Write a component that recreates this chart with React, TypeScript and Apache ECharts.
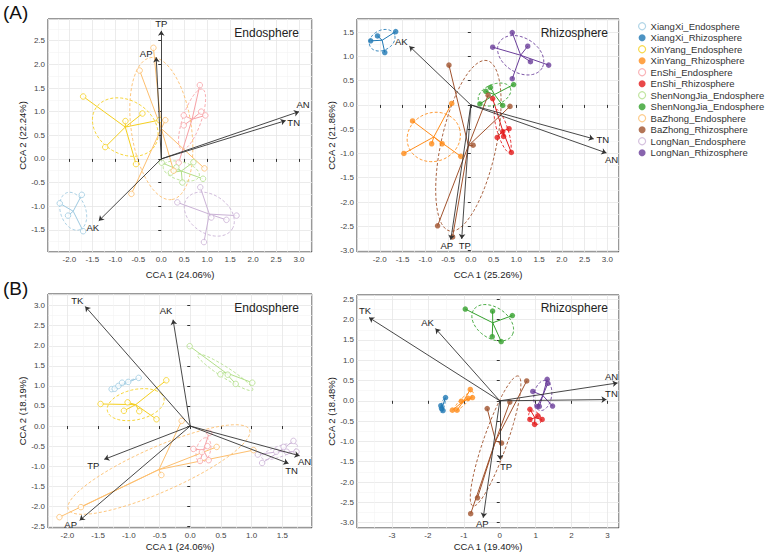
import { useEffect, useRef } from 'react';
import * as echarts from 'echarts';

const FONT = '"Liberation Sans", Arial, Helvetica, sans-serif';

const groups = ['XiangXi', 'XinYang', 'EnShi', 'ShenNongJia', 'BaZhong', 'LongNan'];
const legendLabels = [
  'XiangXi_Endosphere', 'XiangXi_Rhizosphere',
  'XinYang_Endosphere', 'XinYang_Rhizosphere',
  'EnShi_Endosphere', 'EnShi_Rhizosphere',
  'ShenNongJia_Endosphere', 'ShenNongJia_Endosphere',
  'BaZhong_Endosphere', 'BaZhong_Rhizosphere',
  'LongNan_Endosphere', 'LongNan_Rhizosphere',
];
const endoColors = ['#9ecae1', '#f5cf1f', '#f7a1a6', '#b2df8a', '#fdbf6f', '#cab2d6'];
const rhizoColors = ['#1f78b4', '#ff8c1a', '#e31a1c', '#33a02c', '#a0522d', '#6a3d9a'];

// (A) Endosphere sample scores, one list per site
const aEndoPoints = [
  [[-2.21, -0.94], [-2.03, -1.2], [-1.73, -0.76], [-1.7, -1.53]],
  [[-1.7, 1.32], [-1.22, 0.25], [-0.78, 0.8], [-0.55, -0.11], [-0.41, 0.96], [-0.04, 0.82]],
  [[0.84, 1.56], [0.87, 1.0], [0.96, 0.92], [0.49, 0.92], [0.49, 0.71], [0.38, -0.08]],
  [[0.01, -0.08], [0.21, -0.29], [0.33, -0.18], [0.46, -0.5], [0.7, -0.07], [0.91, -0.42]],
  [[-0.17, 2.35], [-0.47, 1.87], [0.09, 0.82], [0.27, -0.25], [0.94, -0.2], [-0.65, -0.74]],
  [[0.85, -0.6], [0.35, -0.92], [1.09, -1.24], [1.42, -1.29], [1.64, -1.2], [0.93, -1.76]],
];
// (A) Rhizosphere
const aRhizoPoints = [
  [[-2.2, 1.32], [-2.05, 1.42], [-1.65, 1.51], [-1.89, 1.08]],
  [[-1.28, -0.33], [-1.47, -1.0], [-0.86, -0.8], [-0.63, -0.8], [-0.42, 0.03], [-0.22, -1.06]],
  [[0.48, 0.13], [0.58, -0.67], [0.7, -0.55], [0.72, -0.65], [0.84, -0.49], [0.89, -0.98]],
  [[0.2, 0.02], [0.33, 0.28], [0.43, 0.36], [0.7, -0.01], [0.94, 0.42]],
  [[-0.48, 0.82], [0.38, 0.2], [0.86, -0.03], [0.05, -0.83], [-0.73, -2.49], [-0.4, -2.72]],
  [[0.91, 1.49], [0.48, 1.19], [1.25, 1.21], [1.31, 0.89], [1.71, 0.82], [0.91, 0.54]],
];
// (B) Endosphere
const bEndoPoints = [
  [[-1.28, 0.92], [-1.23, 0.93], [-1.17, 1.0], [-1.11, 1.08], [-1.01, 1.1], [-0.84, 1.2]],
  [[-1.46, 0.55], [-1.02, 0.59], [-1.08, 0.38], [-0.83, 0.37], [-0.55, 0.17], [-0.39, 1.14]],
  [[0.31, -0.17], [0.05, -0.57], [0.19, -0.65], [0.28, -0.5], [0.16, -0.87], [0.3, -0.85]],
  [[-0.01, 1.99], [0.49, 1.29], [0.61, 1.28], [0.74, 1.05], [1.01, 1.08]],
  [[-0.14, 0.13], [-0.47, -1.22], [-1.78, -2.02], [-2.13, -2.27], [0.43, -0.52], [1.03, -0.6]],
  [[1.1, -0.71], [1.17, -0.92], [1.4, -0.64], [1.52, -0.52], [1.57, -0.64], [1.68, -0.37], [1.73, -0.64]],
];
// (B) Rhizosphere
const bRhizoPoints = [
  [[-1.51, 0.08], [-1.64, -0.12], [-1.58, -0.24], [-1.62, -0.19]],
  [[-1.32, -0.23], [-1.19, -0.23], [-1.07, -0.01], [-0.88, 0.06], [-0.82, 0.28], [-0.76, 0.08]],
  [[0.84, -0.21], [0.84, -0.46], [0.97, -0.58], [1.06, -0.37], [1.18, -0.46]],
  [[-0.96, 2.26], [-0.2, 2.21], [0.35, 2.1], [-0.21, 1.58], [0.04, 1.46]],
  [[-0.35, -0.19], [0.05, -1.04], [0.28, -0.03], [0.75, 0.49], [-0.62, -2.39], [-0.81, -2.78]],
  [[0.92, 0.23], [1.32, 0.53], [1.34, 0.43], [1.04, -0.14], [1.1, -0.14], [1.47, -0.13]],
];

// Environmental factor arrows
const aEndoArrowNames = ['TP', 'AP', 'AN', 'TN', 'AK'];
const aEndoArrows = [[0.0, 2.71], [-0.11, 2.15], [3.0, 1.0], [2.71, 0.81], [-1.36, -1.31]];
const aRhizoArrowNames = ['AK', 'TN', 'AN', 'AP', 'TP'];
const aRhizoArrows = [[-1.35, 1.21], [2.7, -0.7], [2.98, -0.99], [-0.44, -2.78], [-0.2, -2.76]];
const bEndoArrowNames = ['TK', 'AK', 'TP', 'AP', 'AN', 'TN'];
const bEndoArrows = [[-1.71, 2.98], [-0.28, 2.65], [-1.4, -0.83], [-1.8, -2.35], [1.78, -0.74], [1.6, -0.93]];
const bRhizoArrowNames = ['TK', 'AK', 'AN', 'TN', 'TP', 'AP'];
const bRhizoArrows = [[-3.64, 2.05], [-1.79, 1.78], [3.28, 0.44], [2.97, 0.03], [0.01, -1.45], [-0.46, -2.88]];

const xAxisNames = ['CCA 1 (24.06%)', 'CCA 1 (25.26%)', 'CCA 1 (24.06%)', 'CCA 1 (19.40%)'];
const yAxisNames = ['CCA 2 (22.24%)', 'CCA 2 (21.86%)', 'CCA 2 (18.19%)', 'CCA 2 (18.48%)'];
const panelTitles = ['Endosphere', 'Rhizosphere', 'Endosphere', 'Rhizosphere'];

// ---- layout (positions / sizes / styles) ----
const layout = [
  { grid: { left: 48, top: 19, width: 264, height: 233 }, x: [-2.466, 3.283], y: [-1.97, 2.96], split: [11, 10], xDec: 1, nameGap: 17, titleX: 299, titleY: 33 },
  { grid: { left: 357, top: 19, width: 262, height: 233 }, x: [-2.5, 3.255], y: [-3.03, 1.77], split: [11, 10], xDec: 1, nameGap: 17, titleX: 608, titleY: 33 },
  { grid: { left: 48, top: 294, width: 264, height: 234 }, x: [-2.316, 1.982], y: [-2.54, 3.29], split: [9, 12], xDec: 1, nameGap: 13, titleX: 299, titleY: 308 },
  { grid: { left: 357, top: 295, width: 262, height: 233 }, x: [-3.975, 3.32], y: [-3.133, 2.606], split: [7, 11], xDec: 0, nameGap: 13, titleX: 608, titleY: 308 },
];
// label centre offset from arrow tip, in px
const labelOffsets = [
  [[0, -7], [-10, -4], [4, -7], [8, 2], [-6, 7]],
  [[-8, -5], [9, 1], [5, 7], [-4, 6], [3, 7]],
  [[-8, -6], [-7, -9], [-11, 6], [-9, 4], [5, 6], [3, 7]],
  [[-4, -7], [-8, -6], [-6, -6], [5, -6], [6, 7], [-1, 6]],
];
const ELLIPSE_K = 1.2;

function stats(pts: number[][]) {
  const n = pts.length;
  let mx = 0, my = 0;
  pts.forEach((p) => { mx += p[0]; my += p[1]; });
  mx /= n; my /= n;
  let sxx = 0, syy = 0, sxy = 0;
  pts.forEach((p) => {
    sxx += (p[0] - mx) ** 2; syy += (p[1] - my) ** 2; sxy += (p[0] - mx) * (p[1] - my);
  });
  sxx /= n - 1; syy /= n - 1; sxy /= n - 1;
  return { mx, my, sxx, syy, sxy };
}

function ellipseOutline(pts: number[][], k: number) {
  const { mx, my, sxx, syy, sxy } = stats(pts);
  const tr = sxx + syy;
  const det = sxx * syy - sxy * sxy;
  const disc = Math.sqrt(Math.max(tr * tr / 4 - det, 0));
  const l1 = tr / 2 + disc;
  const l2 = Math.max(tr / 2 - disc, 0);
  const th = 0.5 * Math.atan2(2 * sxy, sxx - syy);
  const a = k * Math.sqrt(l1);
  const b = k * Math.sqrt(l2);
  const out: number[][] = [];
  for (let i = 0; i <= 72; i++) {
    const t = (i / 72) * Math.PI * 2;
    const u = a * Math.cos(t);
    const v = b * Math.sin(t);
    out.push([mx + u * Math.cos(th) - v * Math.sin(th), my + u * Math.sin(th) + v * Math.cos(th)]);
  }
  return out;
}

export default function App() {
  const ref = useRef<HTMLDivElement>(null);
  useEffect(() => {
    if (!ref.current) return;
    const chart = echarts.init(ref.current, undefined, { renderer: 'svg' });

    const panels = [
      { points: aEndoPoints, colors: endoColors, hollow: true, suffix: 'Endosphere', arrows: aEndoArrows, names: aEndoArrowNames },
      { points: aRhizoPoints, colors: rhizoColors, hollow: false, suffix: 'Rhizosphere', arrows: aRhizoArrows, names: aRhizoArrowNames },
      { points: bEndoPoints, colors: endoColors, hollow: true, suffix: 'Endosphere', arrows: bEndoArrows, names: bEndoArrowNames },
      { points: bRhizoPoints, colors: rhizoColors, hollow: false, suffix: 'Rhizosphere', arrows: bRhizoArrows, names: bRhizoArrowNames },
    ];

    const series: any[] = [];
    panels.forEach((p, pi) => {
      p.points.forEach((pts, gi) => {
        const color = p.colors[gi];
        const { mx, my } = stats(pts);
        series.push({
          type: 'custom',
          xAxisIndex: pi,
          yAxisIndex: pi,
          clip: true,
          silent: true,
          z: 2,
          data: [[mx, my]],
          renderItem: (_params: any, api: any) => {
            const c = api.coord([mx, my]);
            const ell = ellipseOutline(pts, ELLIPSE_K).map((q) => api.coord(q));
            return {
              type: 'group',
              children: [
                { type: 'polyline', shape: { points: ell }, style: { fill: null, stroke: color, lineWidth: 0.9, lineDash: [3, 2] } },
                ...pts.map((q) => {
                  const r = api.coord(q);
                  return { type: 'line', shape: { x1: c[0], y1: c[1], x2: r[0], y2: r[1] }, style: { stroke: color, lineWidth: 1 } };
                }),
              ],
            };
          },
        });
        series.push({
          type: 'scatter',
          name: `${groups[gi]}_${p.suffix}`,
          xAxisIndex: pi,
          yAxisIndex: pi,
          z: 3,
          symbol: 'circle',
          symbolSize: 5.5,
          data: pts,
          itemStyle: p.hollow
            ? { color: '#ffffff', borderColor: color, borderWidth: 1 }
            : { color, borderWidth: 0 },
        });
      });
      series.push({
        type: 'lines',
        coordinateSystem: 'cartesian2d',
        xAxisIndex: pi,
        yAxisIndex: pi,
        z: 4,
        silent: true,
        symbol: ['none', 'arrow'],
        symbolSize: 5,
        lineStyle: { color: '#333', width: 0.9, opacity: 1 },
        data: p.arrows.map((v) => ({ coords: [[0, 0], v] })),
      });
    });

    const legendData: any[] = [];
    groups.forEach((g, gi) => {
      legendData.push({ name: `${g}_Endosphere`, icon: 'circle', itemStyle: { color: '#ffffff', borderColor: endoColors[gi], borderWidth: 1.2 } });
      legendData.push({ name: `${g}_Rhizosphere`, icon: 'circle', itemStyle: { color: rhizoColors[gi], borderWidth: 0 } });
    });
    const legendMap: Record<string, string> = {};
    legendData.forEach((d, i) => { legendMap[d.name] = legendLabels[i]; });

    const fmt = (dec: number) => (v: number) => (dec ? v.toFixed(dec) : String(Math.round(v)));

    const baseGraphics: any[] = [
      { type: 'text', left: 3, top: 3, style: { text: '(A)', fontSize: 19, fill: '#111', fontFamily: FONT } },
      { type: 'text', left: 3, top: 279, style: { text: '(B)', fontSize: 19, fill: '#111', fontFamily: FONT } },
      ...layout.map((l, i) => ({
        type: 'text',
        x: l.titleX,
        y: l.titleY,
        z: 10,
        style: { text: panelTitles[i], fontSize: 12, fill: '#222', align: 'right', verticalAlign: 'middle', fontFamily: FONT },
      })),
    ];

    const option: any = {
      animation: false,
      backgroundColor: '#ffffff',
      textStyle: { fontFamily: FONT },
      grid: layout.map((l) => ({ ...l.grid, show: true, borderColor: '#333', borderWidth: 1, backgroundColor: '#fff', containLabel: false })),
      xAxis: layout.map((l, i) => ({
        type: 'value',
        gridIndex: i,
        min: l.x[0],
        max: l.x[1],
        splitNumber: l.split[0],
        name: xAxisNames[i],
        nameLocation: 'middle',
        nameGap: l.nameGap,
        nameTextStyle: { fontSize: 9.5, color: '#222', fontFamily: FONT },
        axisLine: { show: false },
        axisTick: { show: true, length: 3, lineStyle: { color: '#333' } },
        axisLabel: { fontSize: 8, color: '#444', margin: 3, showMinLabel: false, showMaxLabel: false, formatter: fmt(l.xDec), fontFamily: FONT },
        splitLine: { show: true, lineStyle: { color: '#e6e6e6', width: 0.8 } },
        minorTick: { show: false, splitNumber: 2 },
        minorSplitLine: { show: true, lineStyle: { color: '#f3f3f3', width: 0.6 } },
      })),
      yAxis: layout.map((l, i) => ({
        type: 'value',
        gridIndex: i,
        min: l.y[0],
        max: l.y[1],
        splitNumber: l.split[1],
        name: yAxisNames[i],
        nameLocation: 'middle',
        nameGap: 21,
        nameTextStyle: { fontSize: 9.5, color: '#222', fontFamily: FONT },
        axisLine: { show: false },
        axisTick: { show: true, length: 3, lineStyle: { color: '#333' } },
        axisLabel: { fontSize: 8, color: '#444', margin: 3, showMinLabel: false, showMaxLabel: false, formatter: fmt(1), fontFamily: FONT },
        splitLine: { show: true, lineStyle: { color: '#e6e6e6', width: 0.8 } },
        minorTick: { show: false, splitNumber: 2 },
        minorSplitLine: { show: true, lineStyle: { color: '#f3f3f3', width: 0.6 } },
      })),
      legend: {
        orient: 'vertical',
        left: 633,
        top: 16,
        itemWidth: 7,
        itemHeight: 7,
        itemGap: 1,
        selectedMode: false,
        textStyle: { fontSize: 9.5, color: '#333', lineHeight: 10.5, fontFamily: FONT },
        formatter: (name: string) => legendMap[name] || name,
        data: legendData,
      },
      graphic: baseGraphics,
      series,
    };
    chart.setOption(option);

    // arrow labels, placed through each grid's own scales
    const labelGraphics: any[] = [];
    panels.forEach((p, pi) => {
      p.arrows.forEach((v, i) => {
        const c = chart.convertToPixel({ gridIndex: pi } as any, v) as number[];
        const off = labelOffsets[pi][i];
        labelGraphics.push({
          type: 'text',
          x: c[0] + off[0],
          y: c[1] + off[1],
          z: 10,
          silent: true,
          style: { text: p.names[i], fill: '#222222', fontSize: 9.5, fontFamily: FONT, align: 'center', verticalAlign: 'middle' },
        });
      });
    });
    chart.setOption({ graphic: [...baseGraphics, ...labelGraphics] });

    return () => chart.dispose();
  }, []);
  return <div ref={ref} style={{ position: 'fixed', left: 0, top: 0, width: 767, height: 558 }} />;
}
